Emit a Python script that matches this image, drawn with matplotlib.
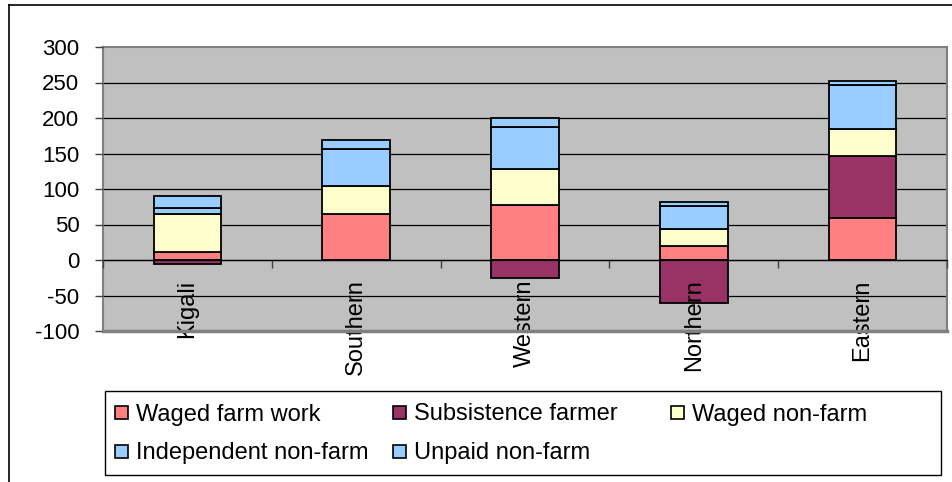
import matplotlib
matplotlib.use("Agg")
import matplotlib.pyplot as plt
from matplotlib.patches import Rectangle
from matplotlib.lines import Line2D
import numpy as np

categories = ["Kigali", "Southern", "Western", "Northern", "Eastern"]
series_names = ["Waged farm work", "Subsistence farmer", "Waged non-farm",
                "Independent non-farm", "Unpaid non-farm"]
waged_farm = [11, 65, 78, 20, 59]
subsistence = [-6, 0, -25, -60, 87]
waged_nonfarm = [54, 39, 50, 23, 39]
independent = [8, 52, 60, 33, 61]
unpaid = [17, 13, 12, 5, 6]
series_values = [waged_farm, subsistence, waged_nonfarm, independent, unpaid]
colors = ["#FF8080", "#993366", "#FFFFCC", "#99CCFF", "#99CCFF"]
yticks = [-100, -50, 0, 50, 100, 150, 200, 250, 300]

FONT = "Liberation Sans"
plt.rcParams["font.family"] = [FONT, "DejaVu Sans"]

W, H = 953, 482
fig = plt.figure(figsize=(W / 100, H / 100), dpi=100)

def fx(px):
    return px / W

def fy(py):
    return 1 - py / H

# plot area
L, T, R, B = 103, 47, 947, 331
ax = fig.add_axes([fx(L), fy(B), (R - L) / W, (B - T) / H])
ax.set_facecolor("#C0C0C0")
ax.set_axisbelow(False)

x = np.arange(len(categories))
pos_base = np.zeros(len(categories))
neg_base = np.zeros(len(categories))
for vals, col, name in zip(series_values, colors, series_names):
    v = np.array(vals, dtype=float)
    bottoms = np.where(v >= 0, pos_base, neg_base)
    ax.bar(x, v, bottom=bottoms, width=0.40, color=col, edgecolor="black",
           linewidth=1.3, label=name, zorder=2)
    pos_base = pos_base + np.where(v >= 0, v, 0)
    neg_base = neg_base + np.where(v < 0, v, 0)

ax.set_xlim(-0.5, len(categories) - 0.5)
ax.set_ylim(-100, 300)
ax.set_yticks(yticks)
ax.set_yticklabels([str(t) for t in yticks], fontsize=16)
for t in yticks[1:-1]:
    ax.axhline(t, color="black", linewidth=0.9, zorder=1)

ax.tick_params(axis="y", direction="out", length=6, width=1, pad=11,
               color="#404040")

# x axis at zero
ax.spines["bottom"].set_position(("data", 0))
ax.spines["bottom"].set_color("black")
ax.spines["bottom"].set_linewidth(0.9)
for s in ["left", "top", "right"]:
    ax.spines[s].set_color("#808080")
    ax.spines[s].set_linewidth(1.5)
# bottom border of the plot area
ax.axhline(-100, color="#808080", linewidth=2.5, zorder=4, clip_on=False)

ax.set_xticks(np.arange(len(categories) + 1) - 0.5)
ax.set_xticklabels([""] * (len(categories) + 1))
ax.tick_params(axis="x", which="major", direction="out", length=5.5,
               width=1, color="#404040")
ax.set_xticks(x, minor=True)
ax.set_xticklabels(categories, minor=True, rotation=90, fontsize=17,
                   va="top", ha="center")
ax.tick_params(axis="x", which="minor", length=0, pad=14)

# chart area border (left and top)
fig.add_artist(Line2D([fx(9), fx(9)], [fy(5), 0], color="black", linewidth=1.2))
fig.add_artist(Line2D([fx(9), 1], [fy(5), fy(5)], color="black", linewidth=1.2))

# legend
lx0, ly0, lx1, ly1 = 105, 391, 941, 475
fig.add_artist(Rectangle((fx(lx0), fy(ly1)), (lx1 - lx0) / W, (ly1 - ly0) / H,
                         facecolor="white", edgecolor="black", linewidth=1.0))
col_x = [115, 393, 671]
row_y = [412, 451]
order = [(0, 0), (0, 1), (0, 2), (1, 0), (1, 1)]
msize = 13
for (r, c), name, col in zip(order, series_names, colors):
    mx, my = col_x[c], row_y[r]
    fig.add_artist(Rectangle((fx(mx), fy(my + msize / 2)), msize / W, msize / H,
                             facecolor=col, edgecolor="black", linewidth=1.2))
    fig.text(fx(mx + msize + 8), fy(my), name, fontsize=17,
             va="center_baseline", ha="left")

fig.savefig("out.png", dpi=100)
